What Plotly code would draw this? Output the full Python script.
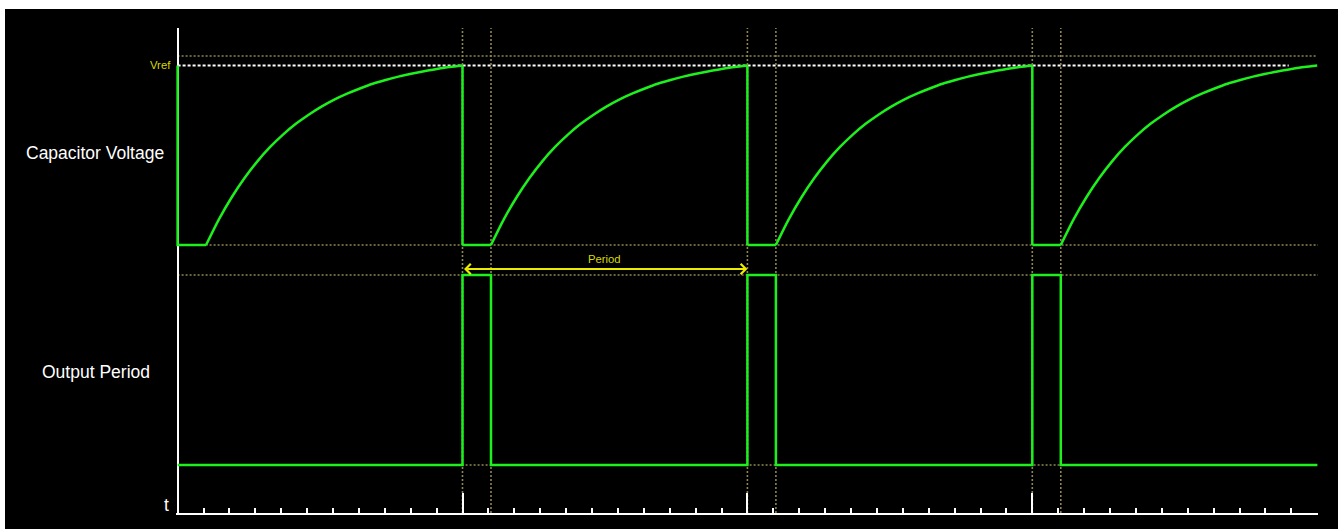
import plotly.graph_objects as go

W, H = 1338, 529

# ---------------- data (time in tick units, levels in chart units 0..10) ----------------
PERIOD = 11.0                      # ticks per cycle
RESET_STARTS = [0.0, 11.0, 22.0, 33.0]
PULSE_WIDTH = 1.1                  # reset / output pulse width
T_END = 44.05                      # end of the time axis
MAJOR_TICKS = [11, 22, 33]
MINOR_TICKS = [t for t in range(1, 44) if t not in MAJOR_TICKS]

# signal levels
Y_TOP = 10.0
VREF = 9.227
TOP_GUIDE = 9.423
CAP_LOW = 5.526
OUT_HIGH = 4.907
OUT_LOW = 0.99
ARROW_Y = 5.031

# capacitor charging curve: fraction of rise time -> fraction of Vref
RISE_S = [0.0, 0.05, 0.10, 0.15, 0.20, 0.25, 0.30, 0.35, 0.40, 0.45, 0.50,
          0.55, 0.60, 0.65, 0.70, 0.75, 0.80, 0.85, 0.90, 0.95, 1.0]
RISE_V = [0.0, 0.143, 0.266, 0.373, 0.466, 0.546, 0.615, 0.675, 0.726, 0.771, 0.810,
          0.843, 0.872, 0.898, 0.919, 0.938, 0.954, 0.968, 0.980, 0.991, 1.0]

# ---------------- styles ----------------
GREEN = "#1ef01e"
OLIVE = "#8c8650"
YELLOW = "#ecec00"
TXT_YELLOW = "#d8d800"
FONT = "Liberation Sans, Arial, sans-serif"

X0_PX, X1_PX = 177.6, 1318.0
PX_PER_T = 25.9
Y_BOT_PX, Y_TOP_PX = 513.0, 28.0

rise_len = PERIOD - PULSE_WIDTH

# ---------------- capacitor voltage ----------------
lin_x, lin_y = [0.0, 0.0], [VREF, CAP_LOW]
rise_x, rise_y = [], []
for i, s0 in enumerate(RESET_STARTS):
    lin_x += [s0, s0 + PULSE_WIDTH, None]
    lin_y += [CAP_LOW, CAP_LOW, None]
    t0 = s0 + PULSE_WIDTH
    rise_x += [t0 + f * rise_len for f in RISE_S] + [None]
    rise_y += [CAP_LOW + v * (VREF - CAP_LOW) for v in RISE_V] + [None]
    if i < len(RESET_STARTS) - 1:
        te = s0 + PERIOD
        lin_x += [te, te, None]
        lin_y += [VREF, CAP_LOW, None]

# ---------------- output period ----------------
out_x, out_y = [0.0], [OUT_LOW]
for s0 in RESET_STARTS[1:]:
    out_x += [s0, s0, s0 + PULSE_WIDTH, s0 + PULSE_WIDTH]
    out_y += [OUT_LOW, OUT_HIGH, OUT_HIGH, OUT_LOW]
out_x.append(RESET_STARTS[-1] + PERIOD)
out_y.append(OUT_LOW)

fig = go.Figure()
fig.add_trace(go.Scatter(x=lin_x, y=lin_y, mode="lines",
                         line=dict(color=GREEN, width=2.5), hoverinfo="skip"))
fig.add_trace(go.Scatter(x=rise_x, y=rise_y, mode="lines",
                         line=dict(color=GREEN, width=2.5, shape="spline", smoothing=0.8),
                         hoverinfo="skip"))
fig.add_trace(go.Scatter(x=out_x, y=out_y, mode="lines",
                         line=dict(color=GREEN, width=2.5), hoverinfo="skip"))

shapes = []
# black canvas
shapes.append(dict(type="rect", xref="paper", yref="paper", x0=5 / W, x1=1, y0=0, y1=(H - 9) / H,
                   fillcolor="black", line=dict(width=0), layer="below"))
# horizontal guide lines
for yv, xe in [(TOP_GUIDE, 44.0), (CAP_LOW, T_END), (OUT_HIGH, T_END), (OUT_LOW, T_END)]:
    shapes.append(dict(type="line", xref="x", yref="y", x0=0, x1=xe, y0=yv, y1=yv,
                       line=dict(color=OLIVE, width=1.6, dash="2px,2px"), layer="below"))
shapes.append(dict(type="line", xref="x", yref="y", x0=0, x1=42.9, y0=VREF, y1=VREF,
                   line=dict(color="white", width=2, dash="3px,2px"), layer="below"))
# vertical guide lines at output pulse edges
for s0 in RESET_STARTS[1:]:
    for xv in (s0, s0 + PULSE_WIDTH):
        shapes.append(dict(type="line", xref="x", yref="y", x0=xv, x1=xv, y0=0, y1=Y_TOP,
                           line=dict(color=OLIVE, width=1.6, dash="2px,2px"), layer="below"))

annotations = [
    dict(text="Capacitor Voltage", xref="paper", yref="paper", x=95.5 / W, y=(H - 153) / H,
         showarrow=False, xanchor="center", yanchor="middle",
         font=dict(family=FONT, size=17.5, color="white")),
    dict(text="Output Period", xref="paper", yref="paper", x=96 / W, y=(H - 372) / H,
         showarrow=False, xanchor="center", yanchor="middle",
         font=dict(family=FONT, size=17.5, color="white")),
    dict(text="t", xref="paper", yref="paper", x=166 / W, y=(H - 505) / H,
         showarrow=False, xanchor="center", yanchor="middle",
         font=dict(family=FONT, size=17.5, color="white")),
    dict(text="Vref", xref="paper", yref="y", x=173 / W, y=VREF,
         showarrow=False, xanchor="right", yanchor="middle",
         font=dict(family=FONT, size=11.3, color=TXT_YELLOW)),
    dict(text="Period", xref="x", yref="y", x=(MAJOR_TICKS[0] + MAJOR_TICKS[1]) / 2, y=ARROW_Y,
         yshift=10, showarrow=False, xanchor="center", yanchor="middle",
         font=dict(family=FONT, size=11.3, color=TXT_YELLOW)),
    dict(text="", xref="x", yref="y", x=MAJOR_TICKS[1], y=ARROW_Y,
         axref="x", ayref="y", ax=MAJOR_TICKS[0], ay=ARROW_Y,
         showarrow=True, arrowhead=4, startarrowhead=4, arrowside="end+start",
         arrowsize=1, startarrowsize=1, arrowwidth=2, arrowcolor=YELLOW, standoff=0, startstandoff=0),
]

dom_x0 = 176.0
x_range = [(dom_x0 - X0_PX) / PX_PER_T, (X1_PX - X0_PX) / PX_PER_T]

fig.update_layout(
    width=W, height=H,
    margin=dict(l=0, r=0, t=0, b=0, pad=0),
    paper_bgcolor="white", plot_bgcolor="black",
    showlegend=False,
    shapes=shapes, annotations=annotations,
    xaxis=dict(domain=[dom_x0 / W, X1_PX / W], range=x_range, showgrid=False, zeroline=False,
               showline=True, linecolor="white", linewidth=2,
               tickmode="array", tickvals=MAJOR_TICKS, ticks="inside", ticklen=20, tickwidth=2,
               tickcolor="white", showticklabels=False, layer="below traces",
               minor=dict(tickmode="array", tickvals=MINOR_TICKS, ticks="inside", ticklen=5,
                          tickwidth=2, tickcolor="white", showgrid=False)),
    yaxis=dict(domain=[(H - Y_BOT_PX) / H, (H - Y_TOP_PX) / H], range=[0, Y_TOP],
               anchor="free", position=X0_PX / W,
               showgrid=False, zeroline=False, showline=True, linecolor="white", linewidth=2,
               ticks="", showticklabels=False, layer="below traces"),
)

fig.write_html("out.html", config={"displayModeBar": False},
               post_script="document.body.style.margin='0';")
